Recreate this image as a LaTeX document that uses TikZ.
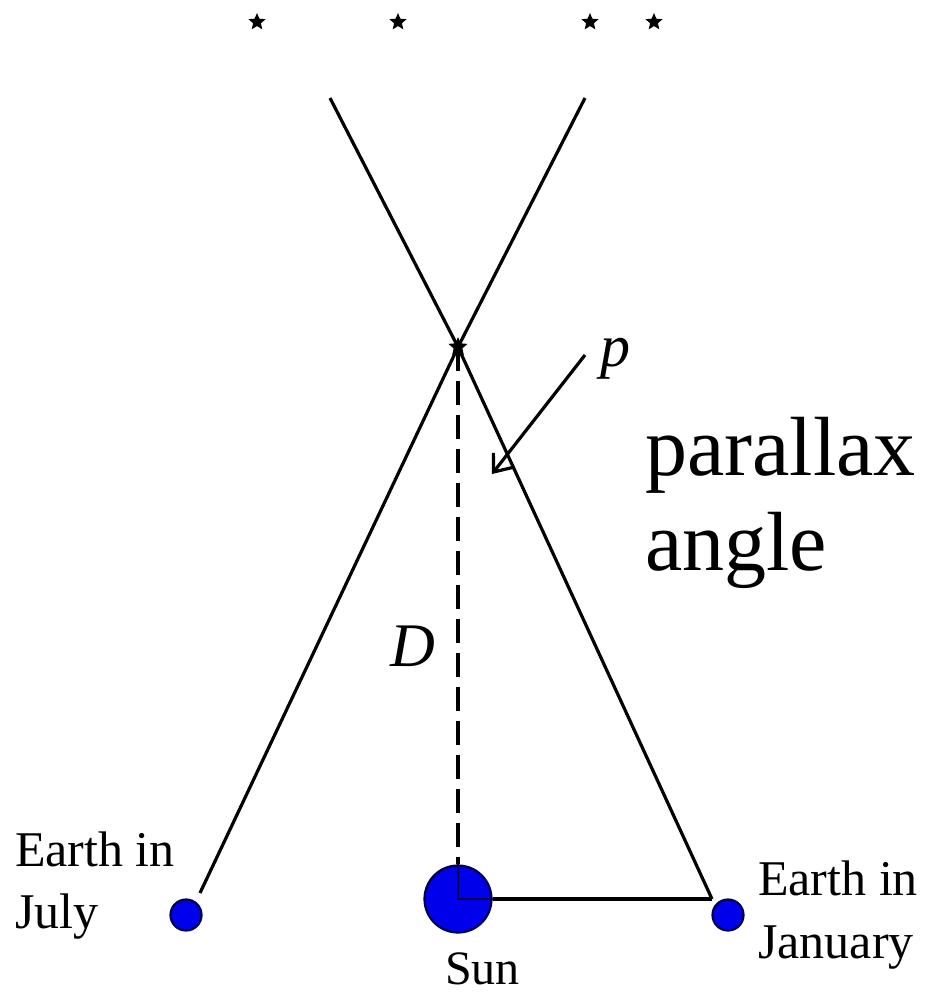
\documentclass[tikz,border=0pt]{standalone}
\usepackage{fontspec}
\setmainfont{Liberation Serif}
\usetikzlibrary{shapes.geometric,arrows.meta}
\begin{document}
\begin{tikzpicture}[x=1pt,y=-1pt,
  ray/.style={line width=3.2pt},
  skystar/.style={star,star points=5,star point ratio=2.2,fill=black,draw=none,minimum size=18pt,inner sep=0pt},
  earth/.style={circle,fill=blue!92!black,draw=blue!30!black,line width=2.2pt,minimum size=31pt,inner sep=0pt},
  lbl/.style={anchor=base west,inner sep=0pt,font=\fontsize{50}{60}\selectfont},
  big/.style={anchor=base west,inner sep=0pt,font=\fontsize{84}{95}\selectfont}]
\useasboundingbox (0,0) rectangle (930,996);
% background stars
\node[skystar] (s1) at (257,22) {};
\node[skystar] (s2) at (398,22) {};
\node[skystar] (s3) at (590,22) {};
\node[skystar] (s4) at (654,22) {};
% nearby star
\node[skystar,minimum size=20pt] (x) at (458,347) {};
% line ends
\coordinate (a) at (330,98);
\coordinate (b) at (585,98);
\coordinate (j) at (200,893);
\coordinate (r) at (712,899);
% sun and earths
\node[earth,minimum size=67pt] (sun) at (458,899) {};
\node[earth] (july) at (186,915) {};
\node[earth] (jan) at (728,915) {};
% sight lines
\draw[ray] (a) -- (x.center) -- (r);
\draw[ray] (b) -- (x.center) -- (j);
\draw[ray,dash pattern=on 24pt off 10pt] (x.center) -- (sun.north);
\draw[line width=2.4pt,draw=blue!30!black] (sun.north) -- (sun.center) -- (sun.east);
\draw[ray] (sun.east) -- (r);
% parallax pointer
\coordinate (pstart) at (585,355);
\coordinate (ptip) at (492,474);
\draw[ray,-{Straight Barb[length=15pt,width=24pt]}] (pstart) -- (ptip);
% labels
\node[anchor=base west,inner sep=0pt,font=\fontsize{60}{70}\selectfont\itshape] (p) at (600,366) {p};
\node[anchor=base west,inner sep=0pt,font=\fontsize{62}{70}\selectfont\itshape] (D) at (390,666) {D};
\node[big] (par) at (645,475) {parallax};
\node[big] (ang) at (645,570) {angle};
\node[lbl] (ej1) at (15,866) {Earth in};
\node[lbl] (ej2) at (15,928) {July};
\node[lbl] (ea1) at (758,895) {Earth in};
\node[lbl] (ea2) at (758,958) {January};
\node[anchor=base west,inner sep=0pt,font=\fontsize{48}{56}\selectfont] (sunl) at (445,984) {Sun};
\end{tikzpicture}
\end{document}
